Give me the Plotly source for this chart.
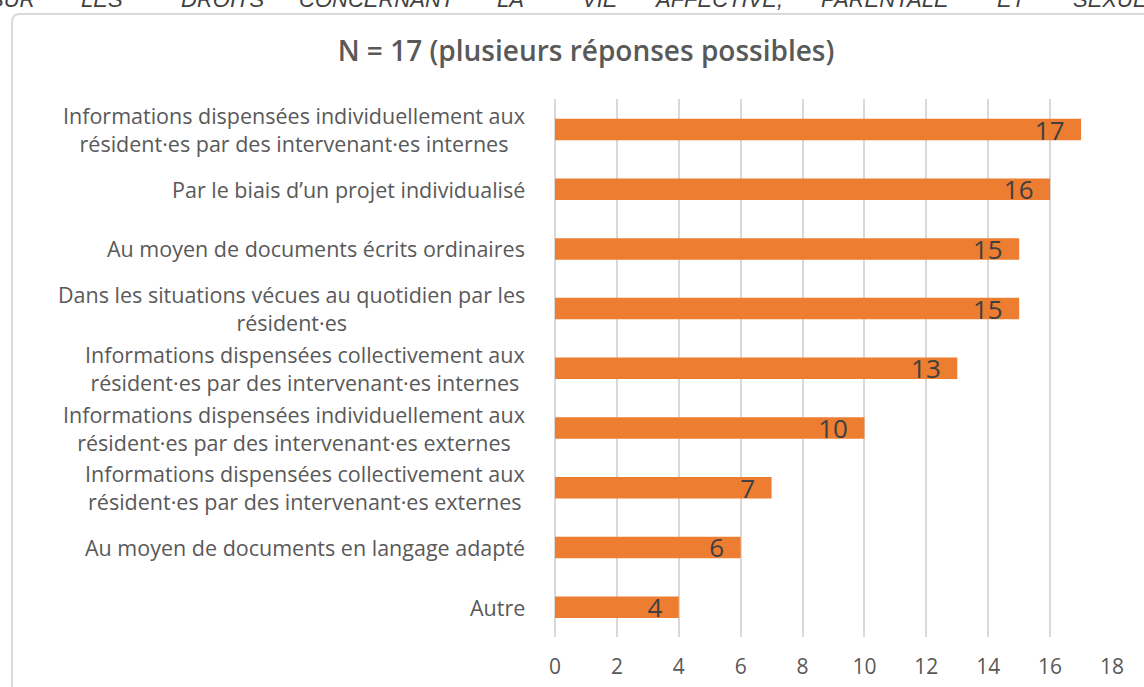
import plotly.graph_objects as go

categories = [
    "Informations dispensées individuellement aux<br>résident·es par des intervenant·es internes",
    "Par le biais d’un projet individualisé",
    "Au moyen de documents écrits ordinaires",
    "Dans les situations vécues au quotidien par les<br>résident·es",
    "Informations dispensées collectivement aux<br>résident·es par des intervenant·es internes",
    "Informations dispensées individuellement aux<br>résident·es par des intervenant·es externes",
    "Informations dispensées collectivement aux<br>résident·es par des intervenant·es externes",
    "Au moyen de documents en langage adapté",
    "Autre",
]
values = [17, 16, 15, 15, 13, 10, 7, 6, 4]
x_ticks = list(range(0, 20, 2))

header_words = ["SUR", "LES", "DROITS", "CONCERNANT", "LA", "VIE", "AFFECTIVE,", "PARENTALE", "ET", "SEXUELLE"]
header_pos = [12, 102, 222, 377, 510, 600, 718, 885, 1012, 1130]

W, H = 1144, 687
L, R, T, B = 555, 1112, 99, 637


def px(p):
    return (p - L) / (R - L)


def py(p):
    return (B - p) / (B - T)


GREY = "#595959"

fig = go.Figure(
    go.Bar(
        x=values,
        y=categories,
        orientation="h",
        marker=dict(color="#ED7D31", line=dict(width=0)),
        width=0.36,
        text=[str(v) + "  " for v in values],
        textposition="inside",
        insidetextanchor="end",
        textangle=0,
        constraintext="none",
        textfont=dict(family="Open Sans", size=26, color="#404040"),
        cliponaxis=False,
    )
)

fig.update_layout(
    width=W,
    height=H,
    margin=dict(l=L, r=W - R, t=T, b=H - B),
    paper_bgcolor="white",
    plot_bgcolor="white",
    showlegend=False,
    font=dict(family="Open Sans", color=GREY),
    title=dict(
        text="N = 17 (plusieurs réponses possibles)",
        xref="container",
        x=586 / W,
        xanchor="center",
        yref="container",
        y=1 - 51 / H,
        yanchor="middle",
        font=dict(family="Open Sans", size=28, color=GREY, weight=600),
    ),
)

fig.update_xaxes(
    range=[0, 18],
    tickvals=x_ticks,
    showgrid=True,
    gridcolor="#d9d9d9",
    gridwidth=1.5,
    zeroline=True,
    zerolinecolor="#d9d9d9",
    zerolinewidth=1.5,
    showline=False,
    ticks="",
    tickfont=dict(family="Open Sans", size=21, color=GREY),
    ticklabelstandoff=15,
    automargin=False,
    fixedrange=True,
)
fig.update_yaxes(
    autorange="reversed",
    showticklabels=False,
    showgrid=False,
    ticks="",
    automargin=False,
    fixedrange=True,
)

# category labels, centred lines, right aligned block
for c in categories:
    fig.add_annotation(
        x=0,
        xref="paper",
        y=c,
        yref="y",
        text=c,
        showarrow=False,
        xanchor="right",
        yanchor="middle",
        align="center",
        xshift=-28,
        font=dict(family="Open Sans", size=21.5, color=GREY),
    )

# cut-off header text from the page
for w, p in zip(header_words, header_pos):
    fig.add_annotation(
        x=px(p),
        xref="paper",
        y=py(-1),
        yref="paper",
        text=f"<i>{w}</i>",
        showarrow=False,
        xanchor="center",
        yanchor="middle",
        font=dict(family="Liberation Sans", size=22, color="#404040"),
    )

# chart frame with rounded top-left corner
x0, y0 = px(12), py(14)
x1, y1 = px(1150), py(700)
rx, ry = 8 / (R - L), 8 / (B - T)
fig.add_shape(
    type="path",
    xref="paper",
    yref="paper",
    path=(
        f"M {x0} {y1} L {x0} {y0 - ry} Q {x0} {y0} {x0 + rx} {y0} "
        f"L {x1} {y0} L {x1} {y1} Z"
    ),
    line=dict(color="#d9d9d9", width=2),
    fillcolor="rgba(0,0,0,0)",
    layer="below",
)

fig.write_html(
    "out.html",
    config={"displayModeBar": False},
    post_script="document.body.style.margin = '0';",
)
